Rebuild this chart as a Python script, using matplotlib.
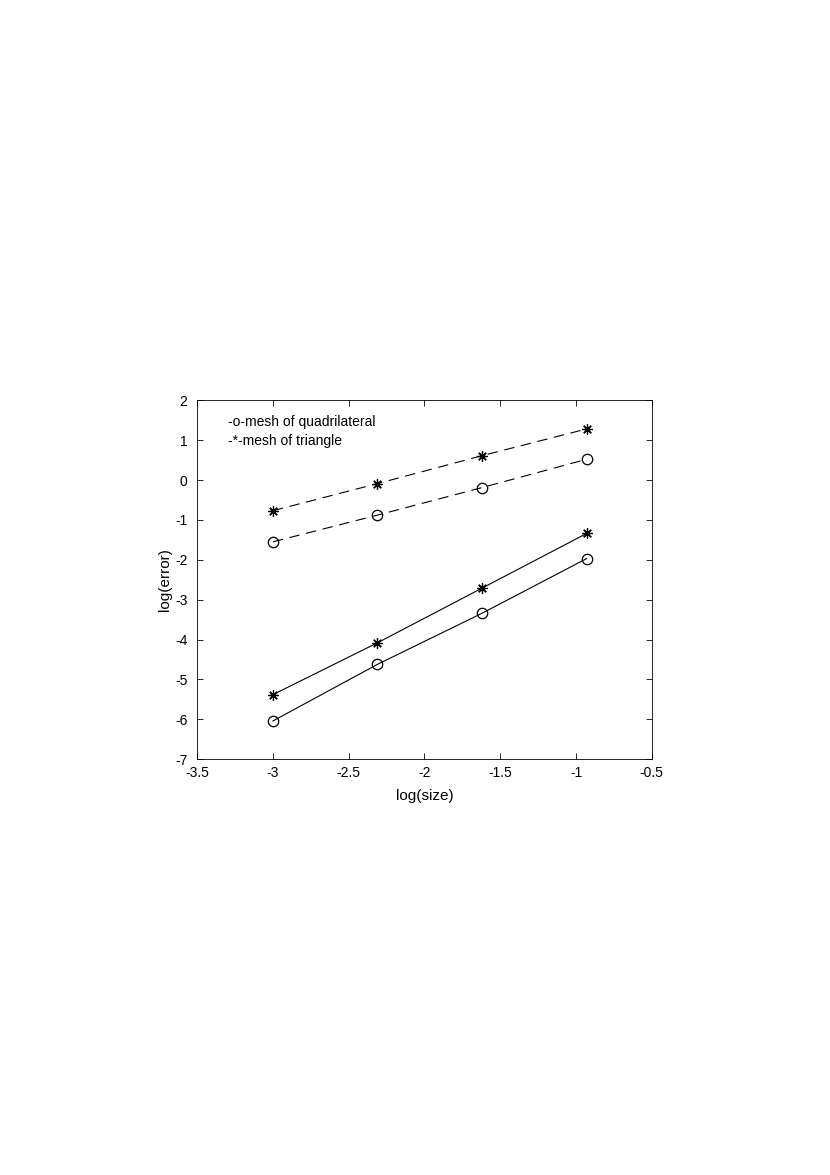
import matplotlib
matplotlib.use('Agg')
import matplotlib.pyplot as plt

plt.rcParams['font.family'] = ['Liberation Sans', 'DejaVu Sans']
plt.rcParams['lines.scale_dashes'] = False

# log(size)
log_size = [-3.0, -2.31, -1.62, -0.93]

# log(error)
quad_dashed = [-1.55, -0.88, -0.19, 0.52]
tri_dashed = [-0.77, -0.09, 0.61, 1.28]
quad_solid = [-6.04, -4.62, -3.34, -1.97]
tri_solid = [-5.38, -4.08, -2.71, -1.34]

legend_lines = ['-o-mesh of quadrilateral', '-*-mesh of triangle']

fig = plt.figure(figsize=(8.3, 11.75), dpi=100)
ax = fig.add_axes([0.2375, 0.3538, 0.5478, 0.3056])

star = (8, 2, 0)
kw = dict(color='black', linewidth=0.8, markersize=7.5, markerfacecolor='none',
          markeredgecolor='black', markeredgewidth=0.9)

ax.plot(log_size, tri_dashed, linestyle='--', marker=star, dashes=(7.5, 4.8), **kw)
ax.plot(log_size, quad_dashed, linestyle='--', marker='o', dashes=(7.5, 4.8), **kw)
ax.plot(log_size, tri_solid, linestyle='-', marker=star, **kw)
ax.plot(log_size, quad_solid, linestyle='-', marker='o', **kw)

ax.set_xlim(-3.5, -0.5)
ax.set_ylim(-7, 2)
ax.set_xticks([-3.5, -3, -2.5, -2, -1.5, -1, -0.5])
ax.set_xticklabels(['-3.5', '-3', '-2.5', '-2', '-1.5', '-1', '-0.5'])
ax.set_yticks(range(-7, 3))
ax.set_yticklabels([str(v) for v in range(-7, 3)])
ax.tick_params(axis='both', which='major', direction='in', top=True, right=True,
               length=4, width=0.6, labelsize=10, colors='black')
ax.tick_params(axis='x', pad=5)
ax.tick_params(axis='y', pad=7)
for sp in ax.spines.values():
    sp.set_linewidth(0.6)

ax.set_xlabel('log(size)', fontsize=11, labelpad=6)
ax.set_ylabel('log(error)', fontsize=11, labelpad=2)

# legend-like text lines, top left
ax.text(0.068, 0.940, legend_lines[0], transform=ax.transAxes, fontsize=10, va='center')
ax.text(0.068, 0.885, legend_lines[1], transform=ax.transAxes, fontsize=10, va='center')

plt.savefig('out.png', dpi=100)
